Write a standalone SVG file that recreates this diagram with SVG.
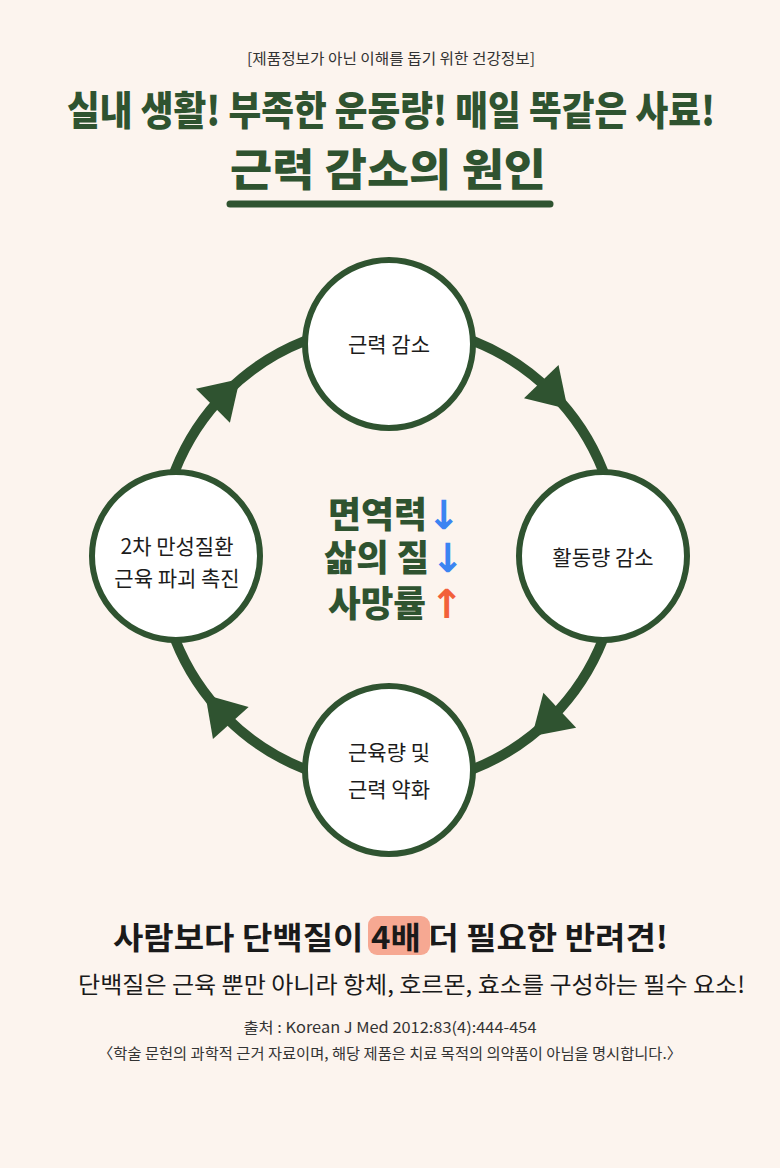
<svg xmlns="http://www.w3.org/2000/svg" width="780" height="1168" viewBox="0 0 780 1168">
<defs>
<style>
.bg{fill:#fcf4ee}
.ring{fill:none;stroke:#2f5330;stroke-width:10}
.node{fill:#ffffff;stroke:#2f5330;stroke-width:6}
.ah{fill:#2f5330}
.lbl{font-family:"Noto Sans CJK KR","Noto Sans",sans-serif;font-size:21px;fill:#1c1c1c;text-anchor:middle}
.title{font-family:"Noto Sans CJK KR",sans-serif;font-weight:900;fill:#2f5330}
.ctr{font-family:"Noto Sans CJK KR",sans-serif;font-weight:900;fill:#2f5330;font-size:36px}
.arr{font-family:"DejaVu Sans",sans-serif;font-weight:bold;font-size:40px}
.small{font-family:"Noto Sans CJK KR",sans-serif;font-size:15px;fill:#333333;text-anchor:middle}
</style>
<polygon id="arrowhead" points="408,325 370,301 370,349"/>
</defs>
<rect class="bg" x="0" y="0" width="780" height="1168"/>

<g id="header">
<text class="small" x="391" y="64" textLength="288" lengthAdjust="spacingAndGlyphs">[제품정보가 아닌 이해를 돕기 위한 건강정보]</text>
<text class="title" transform="translate(391 125) scale(0.89 1)" x="0" y="0" font-size="40" text-anchor="middle">실내 생활! 부족한 운동량! 매일 똑같은 사료!</text>
<text class="title" x="230" y="186" font-size="44" textLength="316" lengthAdjust="spacingAndGlyphs">근력 감소의 원인</text>
<line x1="230" y1="204" x2="550" y2="204" stroke="#2f5330" stroke-width="7" stroke-linecap="round"/>
</g>

<g id="connectors">
<circle class="ring" cx="389" cy="555" r="230"/>
<use href="#arrowhead" class="ah" transform="rotate(46 389 555)"/>
<use href="#arrowhead" class="ah" transform="rotate(137 389 555)"/>
<use href="#arrowhead" class="ah" transform="rotate(228 389 555)"/>
<use href="#arrowhead" class="ah" transform="rotate(-45 389 555)"/>
</g>

<g id="node-top">
<circle class="node" cx="389" cy="344" r="84"/>
<text class="lbl" x="389" y="352">근력 감소</text>
</g>
<g id="node-right">
<circle class="node" cx="603" cy="556" r="84"/>
<text class="lbl" x="603" y="565">활동량 감소</text>
</g>
<g id="node-bottom">
<circle class="node" cx="389" cy="770" r="84"/>
<text class="lbl" x="389" y="760">근육량 및</text>
<text class="lbl" x="389" y="797">근력 약화</text>
</g>
<g id="node-left">
<circle class="node" cx="176" cy="556" r="84"/>
<text class="lbl" x="177" y="554">2차 만성질환</text>
<text class="lbl" x="177" y="586">근육 파괴 촉진</text>
</g>

<g id="center">
<text class="ctr" x="328" y="528" textLength="99" lengthAdjust="spacingAndGlyphs">면역력</text>
<text class="arr" x="427" y="529" fill="#3b84f2">↓</text>
<text class="ctr" x="324" y="571" textLength="105" lengthAdjust="spacingAndGlyphs">삶의 질</text>
<text class="arr" x="431" y="572" fill="#3b84f2">↓</text>
<text class="ctr" x="328" y="617" textLength="98" lengthAdjust="spacingAndGlyphs">사망률</text>
<text class="arr" x="430" y="618" fill="#f2603a">↑</text>
</g>

<g id="footer">
<rect x="368" y="916" width="62" height="39" rx="9" fill="#f6a892"/>
<text x="113" y="949" font-family="Noto Sans CJK KR, sans-serif" font-weight="bold" font-size="31" fill="#1a1a1a" textLength="555" lengthAdjust="spacingAndGlyphs">사람보다 단백질이 4배 더 필요한 반려견!</text>
<text x="78" y="993" font-family="Noto Sans CJK KR, sans-serif" font-size="23" fill="#1a1a1a" textLength="667" lengthAdjust="spacingAndGlyphs">단백질은 근육 뿐만 아니라 항체, 호르몬, 효소를 구성하는 필수 요소!</text>
<text class="small" x="390" y="1033" textLength="293" lengthAdjust="spacingAndGlyphs">출처 : Korean J Med 2012:83(4):444-454</text>
<text class="small" x="390" y="1059" textLength="584" lengthAdjust="spacingAndGlyphs">〈학술 문헌의 과학적 근거 자료이며, 해당 제품은 치료 목적의 의약품이 아님을 명시합니다.〉</text>
</g>
</svg>
